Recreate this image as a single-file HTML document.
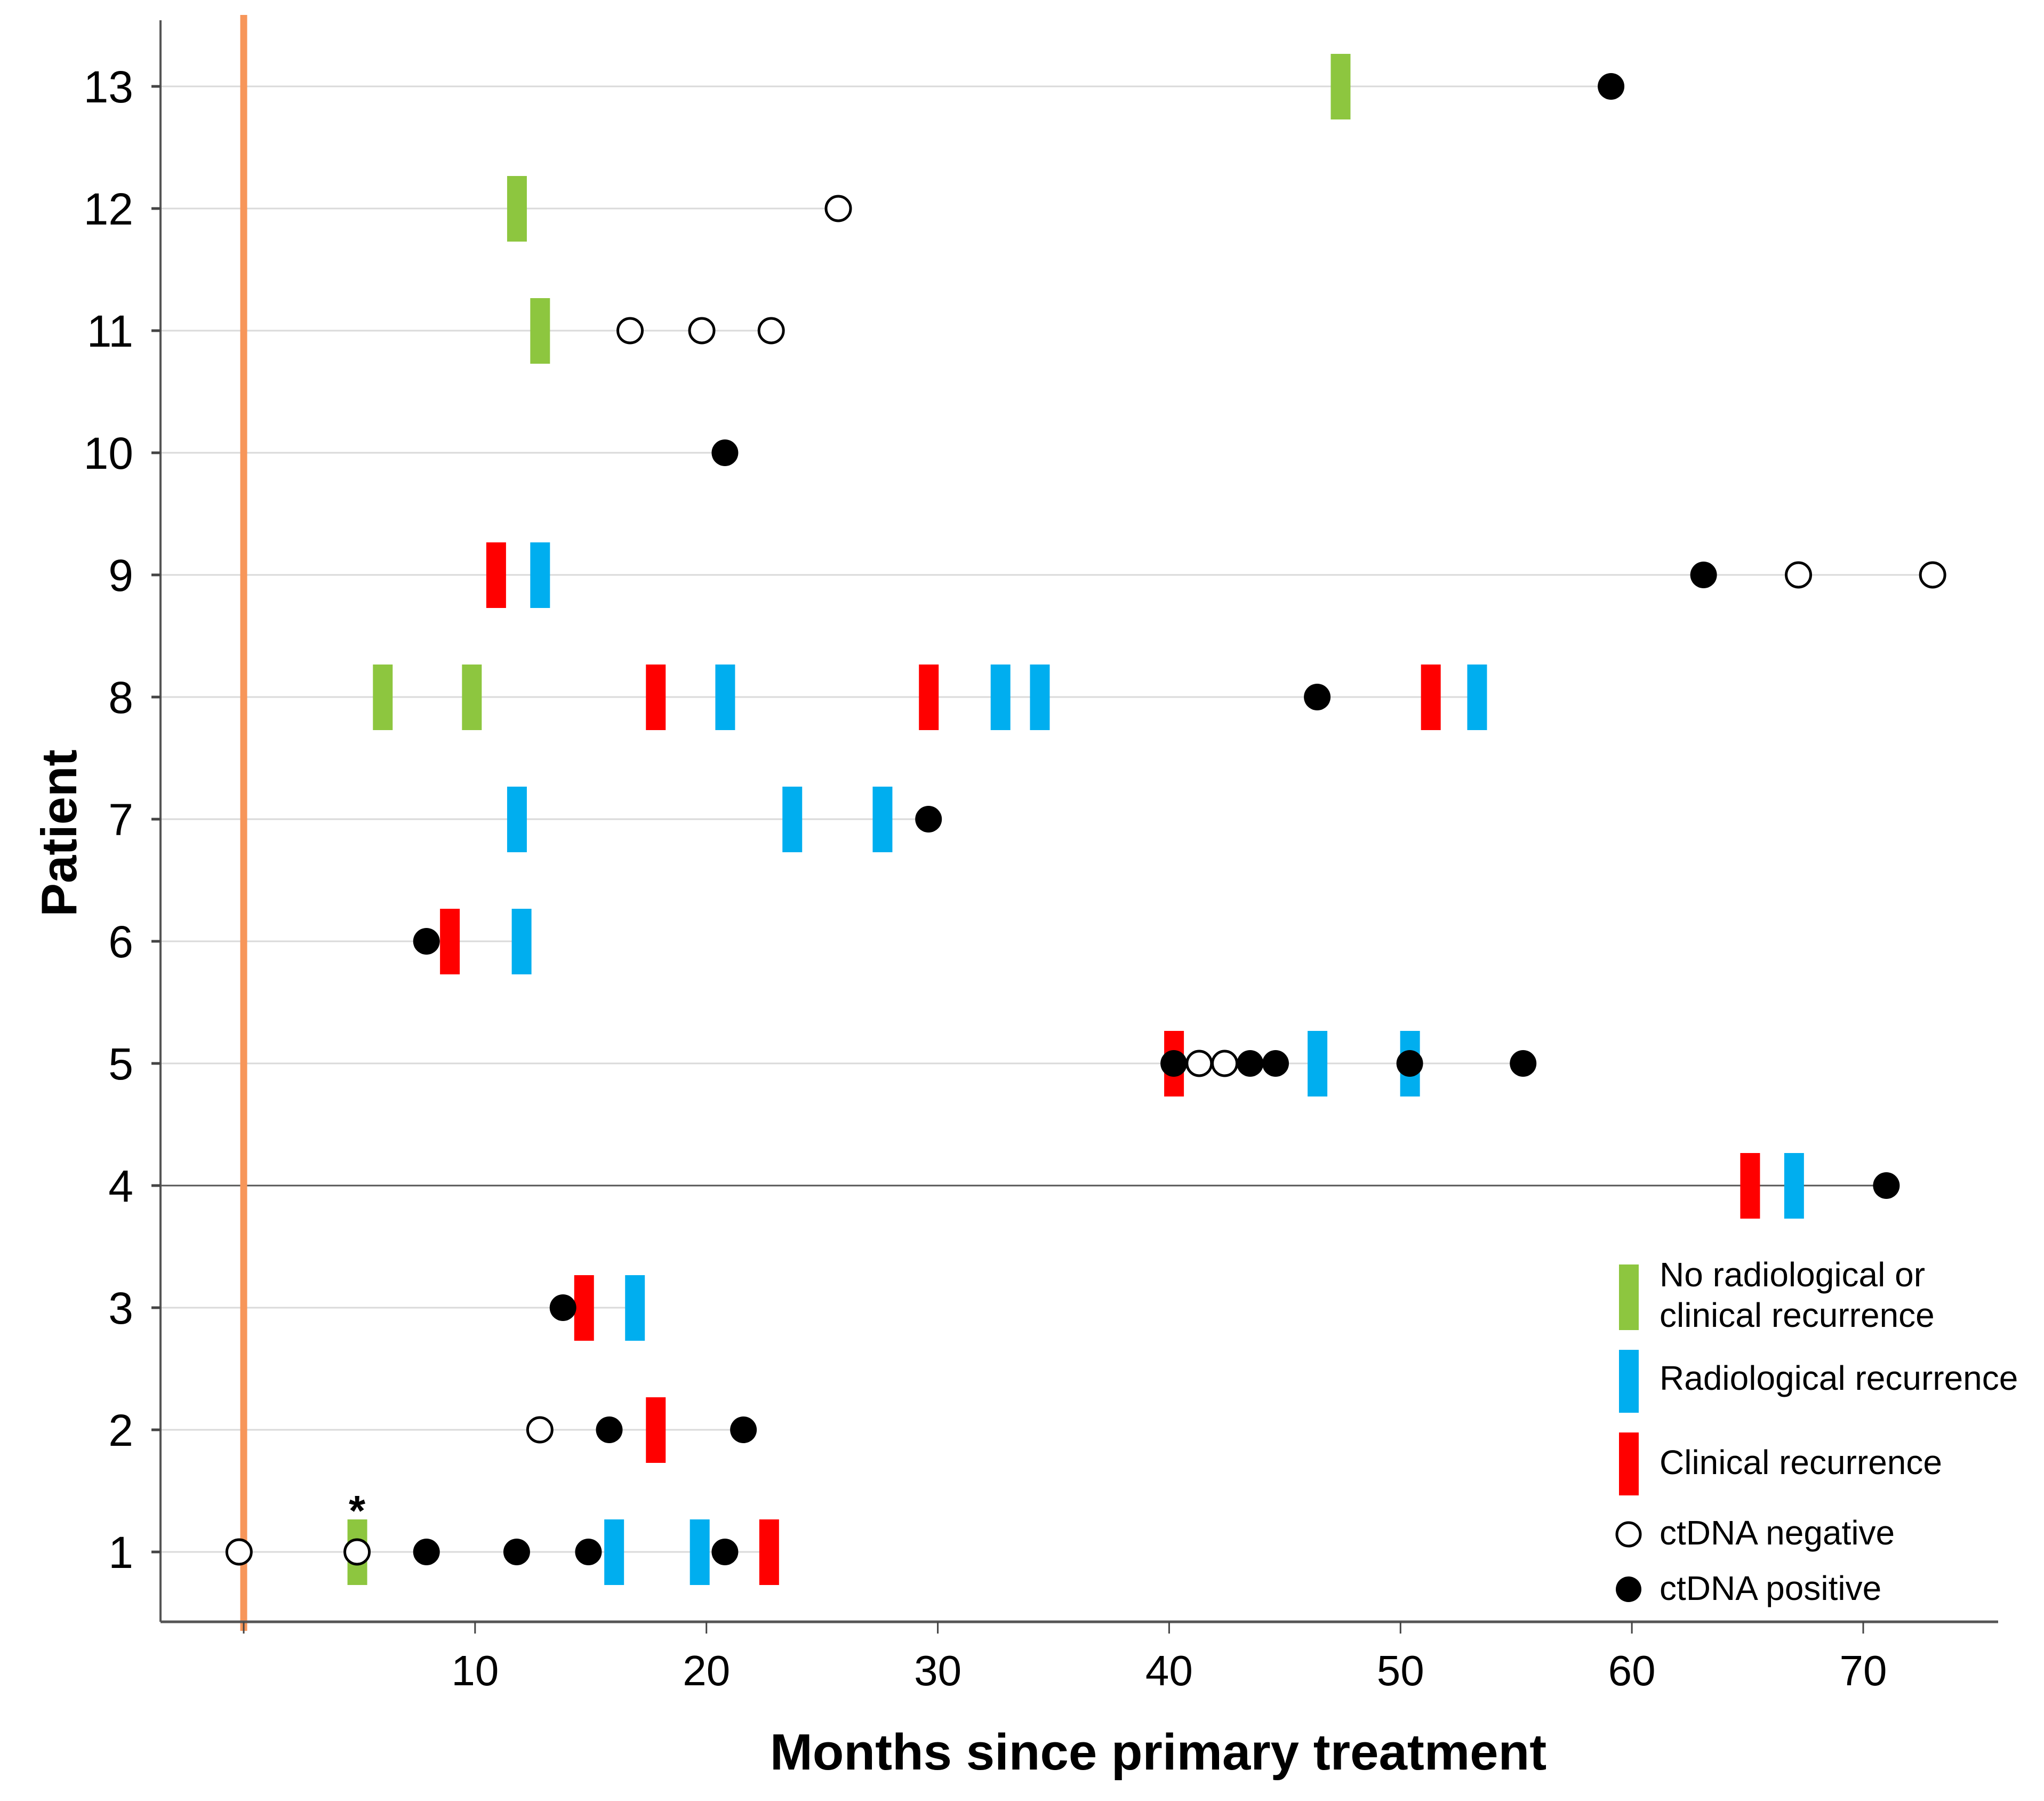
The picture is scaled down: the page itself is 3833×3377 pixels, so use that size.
<!DOCTYPE html>
<html><head><meta charset="utf-8"><style>
html,body{margin:0;padding:0;background:#fff;}
svg{display:block;font-family:"Liberation Sans",Arial,sans-serif;}
</style></head><body>
<svg id="chart" width="3833" height="3377" viewBox="0 0 3833 3377" xmlns="http://www.w3.org/2000/svg"></svg>
<script>
// ---- data ----
const patients = [1,2,3,4,5,6,7,8,9,10,11,12,13];
const xTicks = [10,20,30,40,50,60,70];
const greenEvents = [[1,4.9],[8,6.0],[8,9.85],[11,12.8],[12,11.8],[13,47.4]];
const blueEvents = [[1,16.0],[1,19.7],[3,16.9],[4,67.0],[5,46.4],[5,50.4],[6,12.0],[7,11.8],[7,23.7],[7,27.6],[8,20.8],[8,32.7],[8,34.4],[8,53.3],[9,12.8]];
const redEvents = [[1,22.7],[2,17.8],[3,14.7],[4,65.1],[5,40.2],[6,8.9],[8,17.8],[8,29.6],[8,51.3],[9,10.9]];
const negEvents = [[1,-0.2],[1,4.9],[2,12.8],[5,41.3],[5,42.4],[9,67.2],[9,73.0],[11,16.7],[11,19.8],[11,22.8],[12,25.7]];
const posEvents = [[1,7.9],[1,11.8],[1,14.9],[1,20.8],[2,15.8],[2,21.6],[3,13.8],[4,71.0],[5,40.2],[5,43.5],[5,44.6],[5,50.4],[5,55.3],[6,7.9],[7,29.6],[8,46.4],[9,63.1],[10,20.8],[13,59.1]];

// ---- scales ----
const X0=457, XPER=(3494-457)/70;
const x = v => X0 + v*XPER;
const Y1=2910, YSTEP=(2910-162)/12;
const y = p => Y1 - (p-1)*YSTEP;
const AX=301, AY=3041, AR=3747, AT=38;

const svg=document.getElementById('chart');
const NS='http://www.w3.org/2000/svg';
function mk(tag, attrs, parent){const e=document.createElementNS(NS,tag);for(const k in attrs)e.setAttribute(k,attrs[k]);(parent||svg).appendChild(e);return e;}

// row lines
const allEv=[...greenEvents,...blueEvents,...redEvents,...negEvents,...posEvents];
patients.forEach(p=>{
  const mx=Math.max(...allEv.filter(e=>e[0]===p).map(e=>e[1]));
  const l=mk('line',{x1:AX,x2:x(mx),y1:y(p),y2:y(p),stroke:p===4?'#555':'#dadada','stroke-width':3});
  
  
});

// orange baseline
const ol=mk('line',{x1:x(0),x2:x(0),y1:28,y2:3058,stroke:'#f7965a','stroke-width':13});



// axes
const ya=mk('line',{x1:AX,x2:AX,y1:AT,y2:AY,stroke:'#555','stroke-width':4});


const xa=mk('line',{x1:AX,x2:AR,y1:AY,y2:AY,stroke:'#555','stroke-width':5});



patients.forEach(p=>{
  mk('line',{x1:AX-17,x2:AX,y1:y(p),y2:y(p),stroke:'#444','stroke-width':5});
  const t=mk('text',{x:250,y:y(p)+30,'text-anchor':'end','font-size':84,fill:'#000'});
  t.textContent=String(p);
  
  
});
[0,...xTicks].forEach(v=>{
  mk('line',{x1:x(v),x2:x(v),y1:AY,y2:AY+22,stroke:'#444','stroke-width':3});
});
xTicks.forEach(v=>{
  const t=mk('text',{x:x(v),y:3160,'text-anchor':'middle','font-size':80,fill:'#000'});
  t.textContent=String(v);
  
  
});

// titles
const xt=mk('text',{x:2172,y:3318,'text-anchor':'middle','font-size':96,'font-weight':'bold',fill:'#000'});
xt.textContent='Months since primary treatment';


const yt=mk('text',{x:0,y:0,'text-anchor':'middle','font-size':94,'font-weight':'bold',fill:'#000',transform:'translate(143,1562) rotate(-90)'});
yt.textContent='Patient';



// bars
function bars(list,color,name){
  list.forEach(e=>{
    const r=mk('rect',{x:x(e[1])-18,y:y(e[0])-61,width:37,height:123,fill:color});
    
    
  });
}
bars(greenEvents,'#8dc63f','no-recurrence-bar');
bars(blueEvents,'#00aeef','radiological-recurrence-bar');
bars(redEvents,'#ff0000','clinical-recurrence-bar');

// points
negEvents.forEach(e=>{
  const c=mk('circle',{cx:x(e[1]),cy:y(e[0]),r:23,fill:'#fff',stroke:'#000','stroke-width':5});
  
  
});
posEvents.forEach(e=>{
  const c=mk('circle',{cx:x(e[1]),cy:y(e[0]),r:25,fill:'#000'});
  
  
});

// asterisk
const ast=mk('text',{x:x(4.9),y:2860,'text-anchor':'middle','font-size':80,'font-weight':'bold',fill:'#000'});
ast.textContent='*';



// legend
const lg=mk('g',{});


function ltext(tx,ty,s){const t=mk('text',{x:tx,y:ty,'font-size':64,fill:'#000'},lg);t.textContent=s;return t;}
let r;
r=mk('rect',{x:3036,y:2371,width:37,height:123,fill:'#8dc63f'},lg);


ltext(3112,2412,'No radiological or');
ltext(3112,2488,'clinical recurrence');
r=mk('rect',{x:3036,y:2531,width:37,height:118,fill:'#00aeef'},lg);


ltext(3112,2606,'Radiological recurrence');
r=mk('rect',{x:3036,y:2686,width:37,height:118,fill:'#ff0000'},lg);


ltext(3112,2764,'Clinical recurrence');
r=mk('circle',{cx:3054,cy:2877,r:22,fill:'#fff',stroke:'#000','stroke-width':5},lg);


ltext(3112,2896,'ctDNA negative');
r=mk('circle',{cx:3054,cy:2980,r:24,fill:'#000'},lg);


ltext(3112,3000,'ctDNA positive');
</script>
</body></html>
